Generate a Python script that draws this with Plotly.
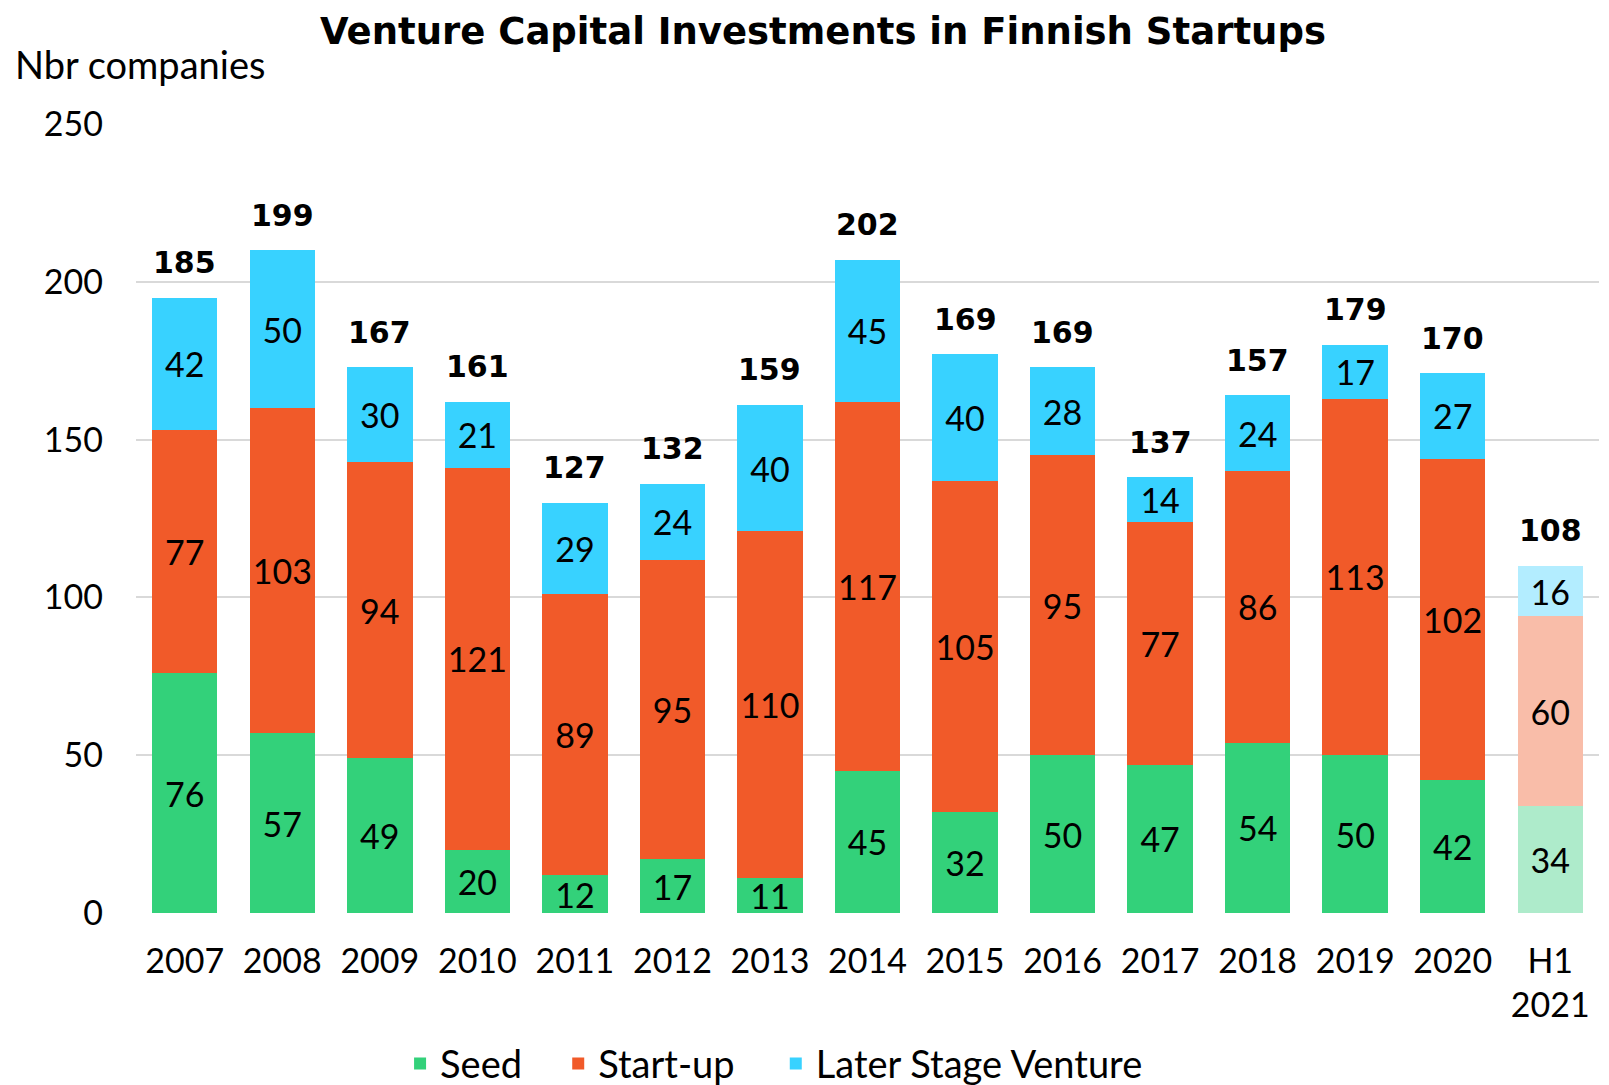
import plotly.graph_objects as go

categories = ["2007", "2008", "2009", "2010", "2011", "2012", "2013", "2014",
              "2015", "2016", "2017", "2018", "2019", "2020", "H1<br>2021"]
seed = [76, 57, 49, 20, 12, 17, 11, 45, 32, 50, 47, 54, 50, 42, 34]
startup = [77, 103, 94, 121, 89, 95, 110, 117, 105, 95, 77, 86, 113, 102, 60]
later = [42, 50, 30, 21, 29, 24, 40, 45, 40, 28, 14, 24, 17, 27, 16]
totals = [185, 199, 167, 161, 127, 132, 159, 202, 169, 169, 137, 157, 179, 170, 108]

FONT = "Lato"
BOLD = "DejaVu Sans"
n = len(categories)


def colors(full, light):
    return [full] * (n - 1) + [light]


fig = go.Figure()
series = [
    ("Seed", seed, "#33D17A", "#AEEBCB", "legend", 0.1805),
    ("Start-up", startup, "#F15A29", "#F9BDA9", "legend2", 0.2886),
    ("Later Stage Venture", later, "#38D2FF", "#B3EDFF", "legend3", 0.4373),
]
for name, vals, c, lc, lg, _ in series:
    fig.add_trace(go.Bar(
        x=categories, y=vals, name=name, legend=lg,
        marker=dict(color=colors(c, lc), line=dict(width=0)),
        text=[str(v) for v in vals], textposition="inside",
        insidetextanchor="middle", constraintext="none", textangle=0,
        textfont=dict(family=FONT, size=34, color="black"),
        hoverinfo="skip",
    ))

stack = [a + b + c for a, b, c in zip(seed, startup, later)]
for i, (top, tot) in enumerate(zip(stack, totals)):
    fig.add_annotation(x=i, y=top, text=f"<b>{tot}</b>", showarrow=False,
                       yanchor="middle", yshift=35,
                       font=dict(family=BOLD, size=30, color="black"))

fig.add_annotation(xref="paper", yref="paper", x=-0.084, y=1.076,
                   xanchor="left", yanchor="middle", text="Nbr companies",
                   showarrow=False, font=dict(family=FONT, size=38, color="black"))

legend_common = dict(orientation="h", xanchor="left", y=-0.191, yanchor="middle",
                     font=dict(family=FONT, size=38, color="black"),
                     itemwidth=30, bgcolor="rgba(0,0,0,0)")
layout_legends = {}
for name, vals, c, lc, lg, lx in series:
    layout_legends[lg] = dict(legend_common, x=lx)

fig.update_layout(
    barmode="stack", bargap=0.33,
    width=1609, height=1085,
    margin=dict(l=128, r=18, t=116, b=180, autoexpand=False),
    paper_bgcolor="white", plot_bgcolor="white",
    title=dict(text="<b>Venture Capital Investments in Finnish Startups</b>",
               x=0.5065, xanchor="center", y=0.979, yanchor="middle",
               font=dict(family=BOLD, size=37, color="black")),
    font=dict(family=FONT, size=34, color="black"),
    showlegend=True,
    **layout_legends,
)
fig.update_yaxes(range=[0, 250], dtick=50, showgrid=True, gridcolor="#D9D9D9",
                 gridwidth=1.5, zeroline=False, showline=False,
                 ticklabelstandoff=32, tickfont=dict(family=FONT, size=34))
fig.update_xaxes(type="category", range=[-0.5, n - 0.5], showgrid=False,
                 showline=False, ticks="",
                 ticklabelstandoff=25, tickfont=dict(family=FONT, size=34))

fig.write_html("out.html")
